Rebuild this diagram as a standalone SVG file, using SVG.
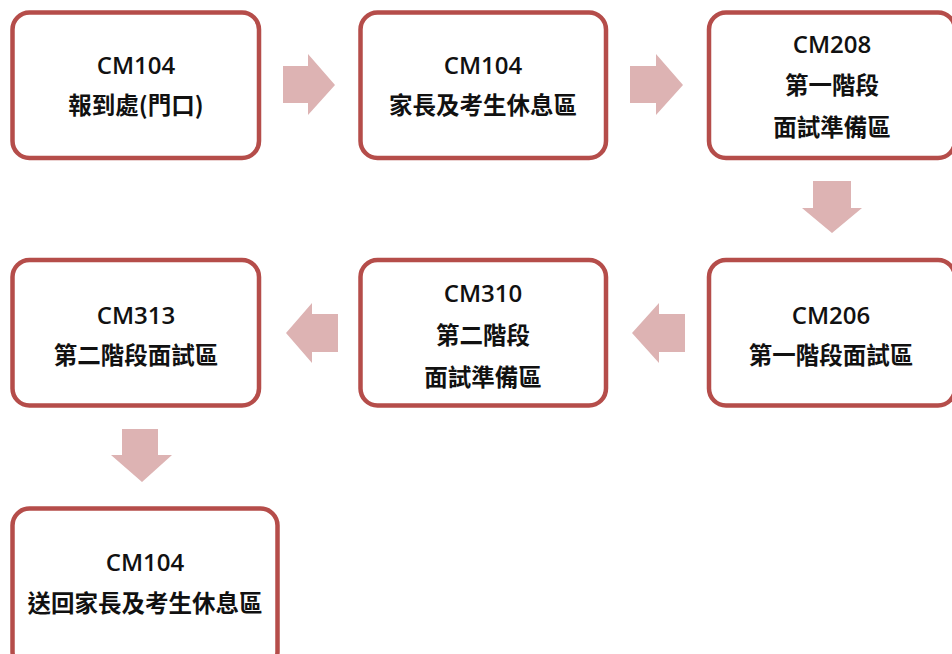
<svg xmlns="http://www.w3.org/2000/svg" width="952" height="654" viewBox="0 0 952 654">
<style>
.box{fill:#ffffff;stroke:#b54d4a;stroke-width:4.5}
.arr{fill:#ddb3b3}
text{font-family:"Open Sans","Noto Sans CJK TC","Noto Sans CJK SC",sans-serif;font-weight:bold;fill:#111;text-anchor:middle}
.en{font-size:24px;font-weight:600}
.zh{font-size:23.5px;font-family:"Noto Sans CJK TC","Noto Sans CJK SC",sans-serif}
</style>
<rect width="952" height="654" fill="#ffffff"/>
<g id="connectors">
<polygon class="arr" points="283,66 308,66 308,54 335,85 308,115 308,103 283,103"/>
<polygon class="arr" points="630,66 656,66 656,54 683,85 656,115 656,103 630,103"/>
<polygon class="arr" points="813,181 851,181 851,208 862,208 832,233 802,208 813,208"/>
<polygon class="arr" points="685,314 659,314 659,303 632,333 659,363 659,352 685,352"/>
<polygon class="arr" points="338,314 312,314 312,303 286,333 312,363 312,352 338,352"/>
<polygon class="arr" points="122,429 158,429 158,455 172,455 142,482 111,455 122,455"/>
</g>
<g id="n1">
<rect class="box" x="12.5" y="12.5" width="246.5" height="145.5" rx="17"/>
<text class="en" x="136" y="74">CM104</text>
<text class="zh" x="136" y="114">報到處(門口)</text>
</g>
<g id="n2">
<rect class="box" x="360.5" y="12.5" width="245.5" height="145.5" rx="17"/>
<text class="en" x="483" y="74">CM104</text>
<text class="zh" x="483" y="114">家長及考生休息區</text>
</g>
<g id="n3">
<rect class="box" x="709" y="12.5" width="246" height="145.5" rx="17"/>
<text class="en" x="832" y="53">CM208</text>
<text class="zh" x="832" y="94">第一階段</text>
<text class="zh" x="832" y="136">面試準備區</text>
</g>
<g id="n6">
<rect class="box" x="709" y="260" width="246" height="145.5" rx="17"/>
<text class="en" x="831" y="324">CM206</text>
<text class="zh" x="831" y="364">第一階段面試區</text>
</g>
<g id="n5">
<rect class="box" x="360.5" y="260" width="245.5" height="145.5" rx="17"/>
<text class="en" x="483" y="302">CM310</text>
<text class="zh" x="483" y="344">第二階段</text>
<text class="zh" x="483" y="386">面試準備區</text>
</g>
<g id="n4">
<rect class="box" x="12.5" y="260" width="246.5" height="145.5" rx="17"/>
<text class="en" x="136" y="324">CM313</text>
<text class="zh" x="136" y="364">第二階段面試區</text>
</g>
<g id="n7">
<rect class="box" x="12.5" y="508.5" width="265" height="160" rx="17"/>
<text class="en" x="145" y="571">CM104</text>
<text class="zh" x="145" y="612">送回家長及考生休息區</text>
</g>
</svg>
